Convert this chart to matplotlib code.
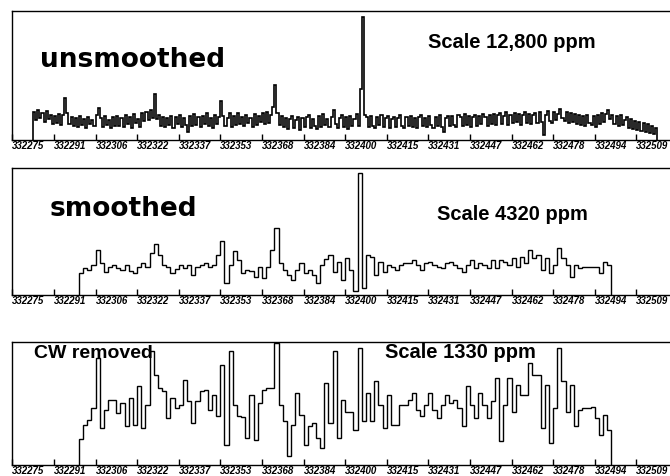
import numpy as np
import matplotlib
matplotlib.use("Agg")
import matplotlib.pyplot as plt
from matplotlib.transforms import ScaledTranslation
from matplotlib import font_manager

# ---------------- data ----------------
tick_channels = [0, 10, 20, 30, 40, 50, 60, 70, 80, 90, 100, 110, 120, 130, 140, 150]
tick_labels = ["332275", "332291", "332306", "332322", "332337", "332353", "332368", "332384",
               "332400", "332415", "332431", "332447", "332462", "332478", "332494", "332509"]

# unsmoothed: half-channel samples starting at channel 5
unsmoothed_start = 5.0
unsmoothed_step = 0.5
unsmoothed = [
    28, 20, 30, 22, 27, 18, 29, 21, 25, 16, 24, 17, 26, 15, 25, 42, 27, 16, 23, 14,
    22, 13, 24, 15, 21, 12, 23, 16, 20, 14, 25, 32, 22, 13, 24, 15, 20, 12, 23, 14,
    24, 14, 22, 13, 25, 16, 23, 12, 26, 17, 21, 13, 27, 19, 28, 20, 30, 22, 46, 21,
    25, 14, 23, 13, 22, 15, 24, 12, 23, 16, 25, 13, 22, 15, 8, 24, 14, 26, 15, 23,
    13, 24, 16, 27, 14, 22, 12, 25, 16, 23, 39, 24, 14, 22, 27, 13, 24, 15, 27, 16,
    23, 14, 25, 17, 22, 13, 26, 15, 24, 18, 27, 16, 28, 17, 25, 33, 55, 27, 15, 24,
    13, 22, 11, 21, 24, 12, 20, 23, 10, 22, 13, 23, 25, 12, 21, 14, 11, 24, 13, 26,
    15, 21, 13, 23, 30, 16, 12, 22, 25, 13, 23, 11, 24, 14, 21, 26, 14, 51, 123, 25,
    23, 13, 24, 14, 12, 23, 15, 25, 13, 22, 24, 12, 21, 23, 13, 22, 25, 14, 12, 23,
    14, 24, 13, 22, 12, 23, 25, 14, 22, 13, 24, 15, 12, 23, 14, 25, 13, 8, 22, 24,
    14, 24, 15, 13, 25, 23, 14, 26, 15, 24, 13, 23, 25, 14, 24, 16, 26, 23, 14, 25,
    16, 26, 15, 25, 27, 16, 24, 28, 15, 25, 17, 27, 18, 26, 15, 25, 28, 17, 26, 16,
    25, 27, 17, 28, 18, 5, 25, 29, 19, 17, 28, 20, 26, 31, 22, 19, 28, 17, 27, 18,
    26, 16, 25, 15, 24, 14, 25, 17, 15, 24, 13, 25, 16, 27, 18, 26, 30, 21, 25, 16,
    24, 14, 25, 15, 20, 23, 12, 21, 11, 19, 10, 18, 9, 17, 8, 16, 7, 14, 6, 12,
]

# smoothed and CW removed: one sample per channel starting at channel 16
smoothed_start = 16
smoothed = [
    22, 27, 25, 30, 45, 32, 23, 28, 30, 27,
    25, 30, 24, 22, 28, 32, 28, 42, 51, 40,
    30, 28, 22, 26, 30, 27, 30, 20, 28, 30,
    32, 28, 30, 40, 54, 12, 30, 44, 35, 22,
    25, 24, 18, 28, 17, 28, 45, 67, 32, 25,
    20, 15, 25, 32, 22, 25, 20, 12, 30, 36,
    40, 23, 33, 15, 37, 25, 4, 122, 7, 40,
    38, 20, 33, 23, 30, 28, 25, 30, 32, 32,
    35, 30, 25, 32, 33, 30, 28, 27, 32, 33,
    30, 27, 23, 30, 35, 27, 32, 30, 27, 35,
    27, 35, 33, 30, 37, 28, 38, 32, 45, 37,
    40, 25, 37, 22, 30, 47, 37, 30, 18, 30,
    27, 28, 28, 28, 28, 22, 33, 30,
]

cw_start = 16
cw_removed = [
    26, 40, 45, 57, 107, 37, 55, 65, 65, 52,
    62, 39, 67, 40, 79, 37, 60, 114, 90, 77,
    74, 47, 67, 57, 60, 85, 64, 42, 64, 74,
    75, 55, 70, 49, 100, 20, 114, 60, 49, 48,
    27, 70, 25, 62, 75, 77, 77, 122, 60, 44,
    9, 40, 72, 50, 20, 39, 42, 27, 17, 82,
    42, 114, 27, 65, 53, 53, 35, 117, 44, 72,
    44, 84, 60, 37, 70, 40, 40, 60, 60, 65,
    72, 55, 49, 60, 72, 55, 47, 60, 70, 62,
    65, 57, 39, 79, 60, 47, 72, 60, 47, 64,
    87, 24, 60, 87, 53, 80, 70, 70, 102, 90,
    90, 37, 80, 22, 57, 117, 84, 53, 80, 39,
    55, 57, 57, 58, 47, 30, 50, 35,
]

titles = ["unsmoothed", "smoothed", "CW removed"]
scales = ["Scale 12,800 ppm", "Scale 4320 ppm", "Scale 1330 ppm"]

# ---------------- layout ----------------
W, H = 670, 476
fig = plt.figure(figsize=(W / 100, H / 100), dpi=100)
fig.patch.set_facecolor("white")

names = {f.name for f in font_manager.fontManager.ttflist}
tick_family = "Liberation Sans Narrow" if "Liberation Sans Narrow" in names else "Liberation Sans"

X_MAX = 160
left_px = 12.3
right_px = left_px + X_MAX * 4.16

panels = [  # top, bottom (pixels), ylim top
    (11, 140, 129),
    (168, 295, 127),
    (342, 465, 123),
]

series = [
    (np.asarray(unsmoothed, float), unsmoothed_start + unsmoothed_step * np.arange(len(unsmoothed) + 1), 1.2),
    (np.asarray(smoothed, float), smoothed_start + np.arange(len(smoothed) + 1), 1.0),
    (np.asarray(cw_removed, float), cw_start + np.arange(len(cw_removed) + 1), 1.0),
]

offset = ScaledTranslation(-4 / 100, 0, fig.dpi_scale_trans)

for (top, bottom, ytop), (vals, edges, lw) in zip(panels, series):
    ax = fig.add_axes([left_px / W, 1 - bottom / H, (right_px - left_px) / W, (bottom - top) / H])
    ax.stairs(vals, edges, baseline=0, fill=False, color="black", linewidth=lw)
    ax.set_xlim(0, X_MAX)
    ax.set_ylim(0, ytop)
    ax.set_yticks([])
    ax.set_xticks(tick_channels)
    ax.set_xticklabels(tick_labels, fontsize=7, fontweight="bold", fontstyle="italic",
                       family=tick_family, ha="left")
    for lbl in ax.get_xticklabels():
        lbl.set_transform(lbl.get_transform() + offset)
    ax.tick_params(axis="x", direction="in", length=4, width=1, color="black", pad=1.0)
    for sp in ax.spines.values():
        sp.set_color("black")
        sp.set_linewidth(1.0)

def ftext(x, y, s, **kw):
    fig.text(x / W, 1 - y / H, s, ha="left", va="center", **kw)

ftext(40, 60, titles[0], fontsize=19, fontweight="bold", family="DejaVu Sans")
ftext(50, 209, titles[1], fontsize=19, fontweight="bold", family="DejaVu Sans")
ftext(34, 353, titles[2], fontsize=14, fontweight="bold", family="Liberation Sans")
ftext(428, 43, scales[0], fontsize=14.5, fontweight="bold", family="Liberation Sans")
ftext(437, 215, scales[1], fontsize=14.5, fontweight="bold", family="Liberation Sans")
ftext(385, 353, scales[2], fontsize=14.5, fontweight="bold", family="Liberation Sans")

fig.savefig("out.png", dpi=100, facecolor="white")
